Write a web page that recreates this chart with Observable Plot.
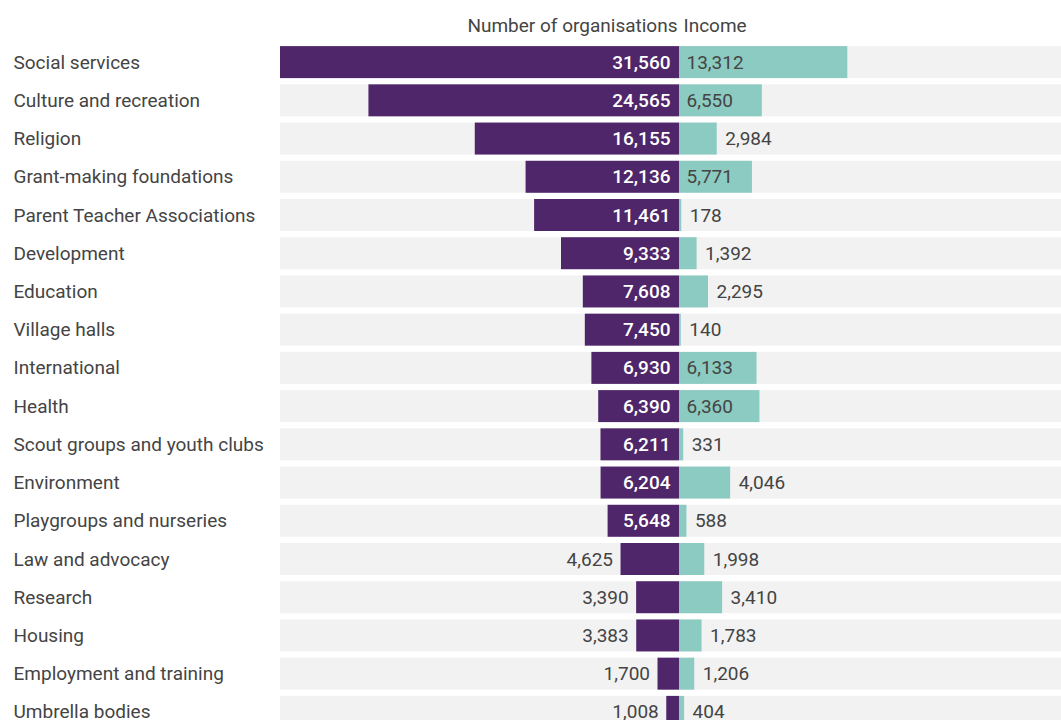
<!DOCTYPE html>
<html>
<head>
<meta charset="utf-8">
<script src="https://cdn.jsdelivr.net/npm/d3@7"></script>
<script src="https://cdn.jsdelivr.net/npm/@observablehq/plot@0.6"></script>
<style>
  body { margin: 0; background: #fff; font-family: Roboto, "Noto Sans", sans-serif; }
</style>
</head>
<body>
<div id="chart"></div>
<script>
const categories = [
  "Social services", "Culture and recreation", "Religion", "Grant-making foundations",
  "Parent Teacher Associations", "Development", "Education", "Village halls",
  "International", "Health", "Scout groups and youth clubs", "Environment",
  "Playgroups and nurseries", "Law and advocacy", "Research", "Housing",
  "Employment and training", "Umbrella bodies"
];
const organisations = [31560, 24565, 16155, 12136, 11461, 9333, 7608, 7450, 6930, 6390, 6211, 6204, 5648, 4625, 3390, 3383, 1700, 1008];
const income = [13312, 6550, 2984, 5771, 178, 1392, 2295, 140, 6133, 6360, 331, 4046, 588, 1998, 3410, 1783, 1206, 404];
const headers = ["Number of organisations", "Income"];

const data = categories.map((name, i) => ({name, orgs: organisations[i], income: income[i]}));
const fmt = d3.format(",");
const purple = "#4f2669";
const teal = "#8ccbc1";
const textDark = "#444444";
const xMin = -31560, xMax = 30215;

const chart = Plot.plot({
  width: 1061,
  height: 731,
  marginLeft: 280,
  marginRight: 0,
  marginTop: 43,
  marginBottom: 0,
  style: {fontFamily: "Roboto, sans-serif", fontSize: "19px", background: "#fff"},
  x: {domain: [xMin, xMax], axis: null},
  y: {domain: categories, axis: null, paddingInner: 0.163, paddingOuter: 0.0815, round: false},
  marks: [
    Plot.barX(data, {y: "name", x1: xMin, x2: xMax, fill: "#f2f2f2"}),
    Plot.barX(data, {y: "name", x1: 0, x2: d => -d.orgs, fill: purple}),
    Plot.barX(data, {y: "name", x1: 0, x2: "income", fill: teal}),
    // category labels
    Plot.text(data, {y: "name", text: "name", frameAnchor: "left", textAnchor: "start", dx: -267, fill: textDark, fontSize: 19}),
    // organisations labels inside
    Plot.text(data.filter(d => d.orgs >= 5000), {y: "name", x: 0, text: d => fmt(d.orgs), textAnchor: "end", dx: -9, fill: "#fff", fontWeight: 500, fontSize: 19}),
    // organisations labels outside
    Plot.text(data.filter(d => d.orgs < 5000), {y: "name", x: d => -d.orgs, text: d => fmt(d.orgs), textAnchor: "end", dx: -8, fill: textDark, fontSize: 19}),
    // income labels inside
    Plot.text(data.filter(d => d.income >= 5000), {y: "name", x: 0, text: d => fmt(d.income), textAnchor: "start", dx: 7, fill: textDark, fontSize: 19}),
    // income labels outside
    Plot.text(data.filter(d => d.income < 5000), {y: "name", x: "income", text: d => fmt(d.income), textAnchor: "start", dx: 8, fill: textDark, fontSize: 19}),
    // header
    Plot.text([headers[0]], {x: 0, frameAnchor: "top", lineAnchor: "middle", textAnchor: "end", dx: -2, dy: -18, text: d => d, fill: textDark, fontSize: 19}),
    Plot.text([headers[1]], {x: 0, frameAnchor: "top", lineAnchor: "middle", textAnchor: "start", dx: 4, dy: -18, text: d => d, fill: textDark, fontSize: 19})
  ]
});
document.getElementById("chart").appendChild(chart);
</script>
</body>
</html>
